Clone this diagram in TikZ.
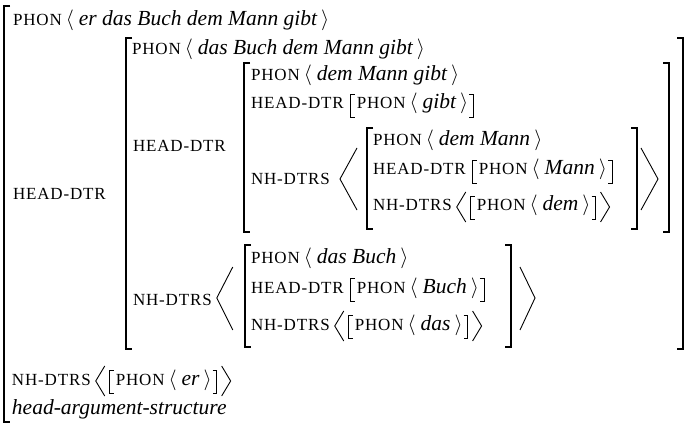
\documentclass[tikz,border=0pt]{standalone}
\usepackage{fontspec}
\setmainfont{Liberation Serif}[ItalicFont={Liberation Serif Italic}]
\newfontfamily\featfont[LetterSpace=5]{Liberation Serif}
\usetikzlibrary{calc}
\newcommand\featx[1]{{\featfont\fontsize{17}{17}\selectfont #1}}
\newcommand\itx[1]{{\fontsize{21.5}{21.5}\selectfont\itshape #1}}
\newcommand\avla{{\fontsize{20}{20}\selectfont$\langle$}}
\newcommand\avra{{\fontsize{20}{20}\selectfont$\rangle$}}
\newcommand\phonrow[1]{\featx{PHON}\kern4pt\avla\kern5pt\itx{#1}\kern4pt\avra}
% inline delimiters, offsets from a node's base east
\newcommand\avlbrk[2]{\draw[sbr] ($(#1.base east)+(#2+4,-15)$) -- ++(-4,0) -- ++(0,23) -- ++(4,0);}
\newcommand\avrbrk[2]{\draw[sbr] ($(#1.base east)+(#2-4,-15)$) -- ++(4,0) -- ++(0,23) -- ++(-4,0);}
\newcommand\avlang[2]{\draw[ang] ($(#1.base east)+(#2+9,-19)$) -- ++(-9,15) -- ++(9,15);}
\newcommand\avrang[2]{\draw[ang] ($(#1.base east)+(#2,-19)$) -- ++(9,15) -- ++(-9,15);}
\begin{document}
\begin{tikzpicture}[x=1pt,y=-1pt,
  txt/.style={anchor=base west,inner sep=0pt,outer sep=0pt},
  bbr/.style={line width=1.7pt,line join=miter},
  sbr/.style={line width=0.9pt,line join=miter},
  ang/.style={line width=0.9pt,line join=miter}]
\useasboundingbox (0,0) rectangle (691,425);
% ---------- outer matrix ----------
\draw[bbr] (10,6) -- (4,6) -- (4,422) -- (10,422);
\node[txt] (o1) at (13,26) {\phonrow{er das Buch dem Mann gibt}};
\node[txt] (o2) at (13,199) {\featx{HEAD-DTR}};
\node[txt] (o3a) at (12,385) {\featx{NH-DTRS}};
\avlang{o3a}{5}
\avlbrk{o3a}{19}
\node[txt] (o3b) at ($(o3a.base east)+(25,0)$) {\phonrow{er}};
\avrbrk{o3b}{5}
\avrang{o3b}{10}
\node[txt] (o4) at (12,414) {\itx{head-argument-structure}};
% ---------- level 2 ----------
\draw[bbr] (132,38) -- (126,38) -- (126,349) -- (132,349);
\draw[bbr] (677,38) -- (683,38) -- (683,349) -- (677,349);
\node[txt] (a1) at (132,55) {\phonrow{das Buch dem Mann gibt}};
\node[txt] (a2) at (133,152) {\featx{HEAD-DTR}};
\node[txt] (a3) at (133,305) {\featx{NH-DTRS}};
\draw[ang] ($(a3.base east)+(21,-38)$) -- ($(a3.base east)+(5,-7)$) -- ($(a3.base east)+(21,25)$);
\draw[ang] (520,267) -- (535,298) -- (520,330);
% ---------- level 3 (dem Mann gibt) ----------
\draw[bbr] (250,63) -- (244,63) -- (244,232) -- (250,232);
\draw[bbr] (663,63) -- (669,63) -- (669,232) -- (663,232);
\node[txt] (b1) at (251,81) {\phonrow{dem Mann gibt}};
\node[txt] (b2a) at (251,109) {\featx{HEAD-DTR}};
\avlbrk{b2a}{7}
\node[txt] (b2b) at ($(b2a.base east)+(13,0)$) {\phonrow{gibt}};
\avrbrk{b2b}{5}
\node[txt] (b3) at (251,185) {\featx{NH-DTRS}};
\draw[ang] (357,148) -- (340,179) -- (357,210);
\draw[ang] (641,148) -- (658,179) -- (641,210);
% ---------- level 4 (dem Mann) ----------
\draw[bbr] (373,128) -- (367,128) -- (367,229) -- (373,229);
\draw[bbr] (631,128) -- (637,128) -- (637,229) -- (631,229);
\node[txt] (c1) at (373,146) {\phonrow{dem Mann}};
\node[txt] (c2a) at (373,175) {\featx{HEAD-DTR}};
\avlbrk{c2a}{7}
\node[txt] (c2b) at ($(c2a.base east)+(13,0)$) {\phonrow{Mann}};
\avrbrk{c2b}{5}
\node[txt] (c3a) at (373,211) {\featx{NH-DTRS}};
\avlang{c3a}{5}
\avlbrk{c3a}{19}
\node[txt] (c3b) at ($(c3a.base east)+(25,0)$) {\phonrow{dem}};
\avrbrk{c3b}{5}
\avrang{c3b}{10}
% ---------- level 3b (das Buch) ----------
\draw[bbr] (251,245) -- (245,245) -- (245,347) -- (251,347);
\draw[bbr] (505,245) -- (511,245) -- (511,347) -- (505,347);
\node[txt] (d1) at (251,263) {\phonrow{das Buch}};
\node[txt] (d2a) at (251,293) {\featx{HEAD-DTR}};
\avlbrk{d2a}{7}
\node[txt] (d2b) at ($(d2a.base east)+(13,0)$) {\phonrow{Buch}};
\avrbrk{d2b}{5}
\node[txt] (d3a) at (251,330) {\featx{NH-DTRS}};
\avlang{d3a}{5}
\avlbrk{d3a}{19}
\node[txt] (d3b) at ($(d3a.base east)+(25,0)$) {\phonrow{das}};
\avrbrk{d3b}{5}
\avrang{d3b}{10}
\end{tikzpicture}
\end{document}
